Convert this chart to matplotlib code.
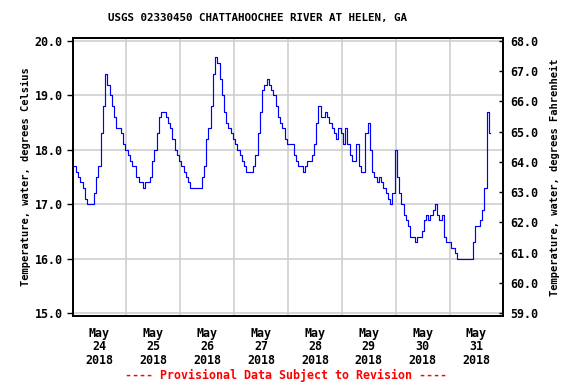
import matplotlib
matplotlib.use("Agg")
import matplotlib.pyplot as plt
import numpy as np

##########
# Data
##########

# hourly water temperature (deg C), starting May 24 2018 00:00
temp_c = [
    17.7, 17.7, 17.6, 17.5, 17.4, 17.3, 17.1, 17.0, 17.0, 17.0, 17.2, 17.5, 17.7,
    18.3, 18.8, 19.4, 19.2, 19.0, 18.8, 18.6, 18.4, 18.4, 18.3, 18.1, 18.0,
    17.9, 17.8, 17.7, 17.7, 17.5, 17.4, 17.4, 17.3, 17.4, 17.4, 17.5, 17.8,
    18.0, 18.3, 18.6, 18.7, 18.7, 18.6, 18.5, 18.4, 18.2, 18.0, 17.9, 17.8,
    17.7, 17.6, 17.5, 17.4, 17.3, 17.3, 17.3, 17.3, 17.3, 17.5, 17.7, 18.2,
    18.4, 18.8, 19.4, 19.7, 19.6, 19.3, 19.0, 18.7, 18.5, 18.4, 18.3, 18.2,
    18.1, 18.0, 17.9, 17.8, 17.7, 17.6, 17.6, 17.6, 17.7, 17.9, 18.3, 18.7,
    19.1, 19.2, 19.3, 19.2, 19.1, 19.0, 18.8, 18.6, 18.5, 18.4, 18.2, 18.1,
    18.1, 18.1, 17.9, 17.8, 17.7, 17.7, 17.6, 17.7, 17.8, 17.8, 17.9, 18.1,
    18.5, 18.8, 18.6, 18.6, 18.7, 18.6, 18.5, 18.4, 18.3, 18.2, 18.4, 18.3,
    18.1, 18.4, 18.1, 17.9, 17.8, 17.8, 18.1, 17.7, 17.6, 17.6, 18.3, 18.5,
    18.0, 17.6, 17.5, 17.4, 17.5, 17.4, 17.3, 17.2, 17.1, 17.0, 17.2, 18.0,
    17.5, 17.2, 17.0, 16.8, 16.7, 16.6, 16.4, 16.4, 16.3, 16.4, 16.4, 16.5,
    16.7, 16.8, 16.7, 16.8, 16.9, 17.0, 16.8, 16.7, 16.8, 16.4, 16.3, 16.3,
    16.2, 16.2, 16.1, 16.0, 16.0, 16.0, 16.0, 16.0, 16.0, 16.0, 16.3, 16.6,
    16.6, 16.7, 16.9, 17.3, 18.7, 18.3,
]
hours = np.arange(len(temp_c))

day_labels = ["May\n24\n2018", "May\n25\n2018", "May\n26\n2018", "May\n27\n2018",
              "May\n28\n2018", "May\n29\n2018", "May\n30\n2018", "May\n31\n2018"]
c_ticks = [15.0, 16.0, 17.0, 18.0, 19.0, 20.0]
f_ticks = [59.0, 60.0, 61.0, 62.0, 63.0, 64.0, 65.0, 66.0, 67.0, 68.0]

title = "USGS 02330450 CHATTAHOOCHEE RIVER AT HELEN, GA"
footer = "---- Provisional Data Subject to Revision ----"

##########
# Plot
##########

plt.rcParams['font.family'] = ['DejaVu Sans Mono']
plt.rcParams['font.weight'] = 'bold'
fs = 8.4

fig = plt.figure(figsize=(5.76, 3.84), dpi=100)
ax = fig.add_axes([0.1259, 0.1779, 0.7481, 0.7224])

ax.plot(hours, temp_c, color='#0000ff', lw=0.85, drawstyle='steps-mid')

ylo, yhi = 14.95, 20.05
ax.set_xlim(0, 192)
ax.set_ylim(ylo, yhi)

# gridlines at midnight, labels at noon
ax.set_xticks(np.arange(0, 193, 24))
ax.set_xticklabels([])
ax.set_xticks(np.arange(12, 192, 24), minor=True)
ax.set_xticklabels(day_labels, minor=True, fontsize=fs, fontweight='bold',
                   linespacing=1.05)
ax.tick_params(axis='x', which='both', length=0)
ax.tick_params(axis='x', which='minor', pad=8)
ax.grid(True, which='major', color='#cccccc', lw=1.1)
ax.set_axisbelow(True)

ax.set_yticks(c_ticks)
ax.set_yticklabels([f"{v:.1f}" for v in c_ticks], fontsize=fs, fontweight='bold')
ax.tick_params(axis='y', direction='out', length=4, width=1, pad=3)
ax.set_ylabel("Temperature, water, degrees Celsius", fontsize=7.5,
              fontweight='bold', labelpad=3)

ax2 = ax.twinx()
ax2.set_ylim(ylo * 1.8 + 32, yhi * 1.8 + 32)
ax2.set_yticks(f_ticks)
ax2.set_yticklabels([f"{v:.1f}" for v in f_ticks], fontsize=fs, fontweight='bold')
ax2.tick_params(axis='y', direction='in', length=3, width=1, pad=5)
ax2.set_ylabel("Temperature, water, degrees Fahrenheit", fontsize=7.5,
               fontweight='bold', labelpad=8)

for a in (ax, ax2):
    for s in a.spines.values():
        s.set_linewidth(1.3)
        s.set_color('black')

fig.text(257 / 576, 0.953, title, ha='center', va='center', fontsize=7.8,
         fontweight='bold')
fig.text(0.497, 0.0234, footer, ha='center', va='center', fontsize=fs,
         fontweight='bold', color='#ff0000')

fig.savefig("out.png", dpi=100)
